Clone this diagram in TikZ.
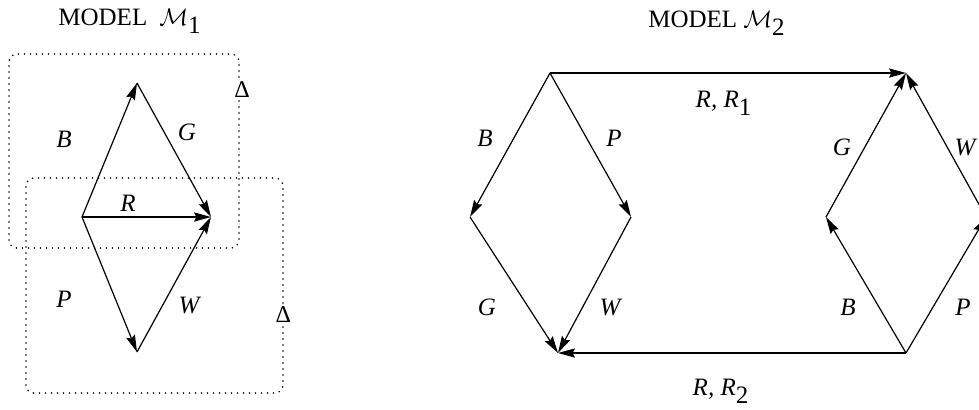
\documentclass[tikz,border=0pt]{standalone}
\usepackage{fontspec}
\setmainfont{Liberation Serif}
\usetikzlibrary{arrows.meta}
\begin{document}
\begin{tikzpicture}[x=10pt, y=10pt, font=\fontsize{12.5}{15}\selectfont,
    >={Stealth[length=8.5pt,width=4.6pt,inset=1.2pt]},
    arc/.style={->, line width=0.6pt},
    dotbox/.style={line width=0.9pt, line cap=round, dash pattern=on 0pt off 3pt, rounded corners=4pt},
    lbl/.style={font=\fontsize{12.5}{15}\selectfont\itshape, inner sep=1pt},
    delta/.style={fill=white, inner sep=1pt, font=\fontsize{12}{14}\selectfont}]
  \useasboundingbox (0,0) rectangle (48.95,20.45);
  \clip (0,0) rectangle (48.95,20.45);

  % first model: two overlapping dotted regions
  \node[anchor=base] (title1) at (6.5,19.2) {MODEL\hspace{6pt}$\mathcal{M}_{\mbox{1}}$};
  \draw[dotbox] (0.45,8.05) rectangle (11.95,17.75);
  \draw[dotbox] (1.3,0.8) rectangle (14.15,11.55);
  \node[delta] (d1) at (12.1,15.95) {Δ};
  \node[delta] (d2) at (14.17,4.7) {Δ};

  \coordinate (l1) at (4.1,9.6);
  \coordinate (t1) at (6.85,16.3);
  \coordinate (r1) at (10.55,9.6);
  \coordinate (b1) at (6.85,2.85);
  \draw[arc] (l1) -- (t1);
  \draw[arc] (t1) -- (r1);
  \draw[arc] (l1) -- (r1);
  \draw[arc] (l1) -- (b1);
  \draw[arc] (b1) -- (r1);
  \node[lbl] (b1lbl) at (3.2,13.5) {B};
  \node[lbl] (g1lbl) at (9.35,13.85) {G};
  \node[lbl] (r1lbl) at (6.4,10.3) {R};
  \node[lbl] (p1lbl) at (3.2,5.5) {P};
  \node[lbl] (w1lbl) at (9.45,5.2) {W};

  % second model: two half hexagons joined by R
  \node[anchor=base] (title2) at (35.85,19.1) {MODEL $\mathcal{M}_{\mbox{2}}$};
  \coordinate (a) at (27.5,16.8);
  \coordinate (lv) at (23.5,9.6);
  \coordinate (rv) at (31.55,9.6);
  \coordinate (d) at (27.9,2.8);
  \coordinate (c) at (45.3,16.8);
  \coordinate (lw) at (41.3,9.6);
  \coordinate (e) at (45.3,2.8);
  \coordinate (rw) at (49.3,9.6);

  \draw[arc] (a) -- (c);
  \draw[arc] (a) -- (lv);
  \draw[arc] (a) -- (rv);
  \draw[arc] (lv) -- (d);
  \draw[arc] (rv) -- (d);
  \draw[arc] (e) -- (d);
  \draw[arc] (lw) -- (c);
  \draw[arc] (rw) -- (c);
  \draw[arc] (e) -- (lw);
  \draw[arc] (e) -- (rw);

  \node[lbl, anchor=base] (rr1) at (36.2,15.1) {R, R$_{\mbox{\upshape 1}}$};
  \node[lbl, anchor=base] (rr2) at (36.05,0.7) {R, R$_{\mbox{\upshape 2}}$};
  \node[lbl] (b2lbl) at (24.25,13.55) {B};
  \node[lbl] (p2lbl) at (30.7,13.55) {P};
  \node[lbl] (g2lbl) at (24.35,5.1) {G};
  \node[lbl] (w2lbl) at (30.5,5.1) {W};
  \node[lbl] (g3lbl) at (42.1,13.1) {G};
  \node[lbl] (w3lbl) at (48.25,13.1) {W};
  \node[lbl] (b3lbl) at (42.4,5.1) {B};
  \node[lbl] (p3lbl) at (48.15,5.1) {P};
\end{tikzpicture}
\end{document}
